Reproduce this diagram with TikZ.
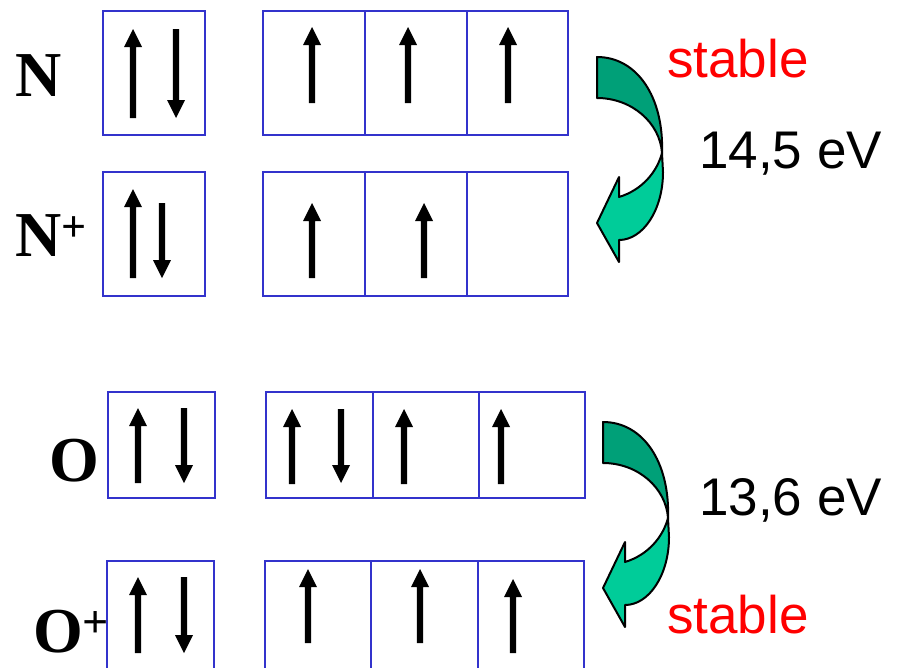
\documentclass[tikz,border=0pt]{standalone}
\usepackage{fontspec}
\setmainfont{Liberation Sans}
\newfontfamily\elemfont{Liberation Serif}

\definecolor{orbblue}{RGB}{51,51,204}
\definecolor{arrowdark}{RGB}{0,160,120}
\definecolor{arrowlight}{RGB}{0,204,153}

\tikzset{
  orb/.style={draw=orbblue, line width=2pt},
  elem/.style={anchor=base west, inner sep=0pt, font=\elemfont\bfseries\fontsize{64}{64}\selectfont},
  note/.style={anchor=base west, inner sep=0pt, font=\fontsize{53}{53}\selectfont},
  shade/.style={draw=black, line width=2pt, line join=round},
}

% electron spin arrows: x, tip y, tail y
\newcommand\spinup[3]{%
  \fill[shift={(#1,#2)}] (0,0) -- (9,18) -- (3.2,18) -- (3.2,#3-#2)
    -- (-3.2,#3-#2) -- (-3.2,18) -- (-9,18) -- cycle;}
\newcommand\spindown[3]{%
  \fill[shift={(#1,#2)}, yscale=-1] (0,0) -- (9,18) -- (3.2,18) -- (3.2,#2-#3)
    -- (-3.2,#2-#3) -- (-3.2,18) -- (-9,18) -- cycle;}

% curved ionisation arrow, origin at the upper corner of its tail
\newcommand\ionarrow{%
  \fill[shade, fill=arrowdark] (0,0) .. controls (40,0) and (67,40) .. (65,96)
    .. controls (63,66) and (35,41) .. (0,41) -- cycle;
  \fill[shade, fill=arrowlight] (65,96) -- (66,115)
    .. controls (66,153) and (46,183) .. (22,183)
    -- (22,205) -- (0,166) -- (22,120) -- (22,140)
    .. controls (45,133) and (60,115) .. (65,96) -- cycle;
}

\begin{document}
\begin{tikzpicture}[x=1pt, y=-1pt]
\useasboundingbox (0,0) rectangle (899,667);
\clip (0,0) rectangle (899,667);

% ---- N ----
\node[elem] (lN) at (15,96) {N};
\draw[orb] (103,11) rectangle (205,135);
\draw[orb] (263,11) rectangle (365,135);
\draw[orb] (365,11) rectangle (467,135);
\draw[orb] (467,11) rectangle (568,135);
\spinup{133}{29}{118}
\spindown{176}{118}{29}
\spinup{312}{27}{103}
\spinup{408}{27}{103}
\spinup{508}{27}{103}

% ---- N+ ----
\node[elem] (lNp) at (15,256) {N\raisebox{15pt}{\fontsize{44}{44}\selectfont +}};
\draw[orb] (103,172) rectangle (205,296);
\draw[orb] (263,172) rectangle (365,296);
\draw[orb] (365,172) rectangle (467,296);
\draw[orb] (467,172) rectangle (568,296);
\spinup{133}{189}{278}
\spindown{162}{278}{203}
\spinup{312}{203}{278}
\spinup{424}{203}{278}

% ---- O ----
\node[elem] (lO) at (49,481) {O};
\draw[orb] (108,392) rectangle (215,498);
\draw[orb] (266,392) rectangle (373,498);
\draw[orb] (373,392) rectangle (479,498);
\draw[orb] (479,392) rectangle (585,498);
\spinup{138}{408}{483}
\spindown{184}{483}{408}
\spinup{292}{409}{484}
\spindown{341}{483}{409}
\spinup{404}{409}{484}
\spinup{501}{409}{484}

% ---- O+ ----
\node[elem] (lOp) at (33,652) {O\raisebox{15pt}{\fontsize{46}{46}\selectfont +}};
\draw[orb] (107,561) rectangle (214,690);
\draw[orb] (265,561) rectangle (371,690);
\draw[orb] (371,561) rectangle (478,690);
\draw[orb] (478,561) rectangle (584,690);
\spinup{138}{577}{653}
\spindown{184}{653}{577}
\spinup{308}{569}{643}
\spinup{420}{569}{643}
\spinup{513}{579}{653}

% ---- ionisation arrows and energies ----
\begin{scope}[shift={(597,57)}] \ionarrow \end{scope}
\begin{scope}[shift={(603,422)}] \ionarrow \end{scope}

\node[note, text=red] (st1) at (667,77) {stable};
\node[note] (e1) at (699,168) {14,5 eV};
\node[note] (e2) at (699,515) {13,6 eV};
\node[note, text=red] (st2) at (667,633) {stable};
\end{tikzpicture}
\end{document}
